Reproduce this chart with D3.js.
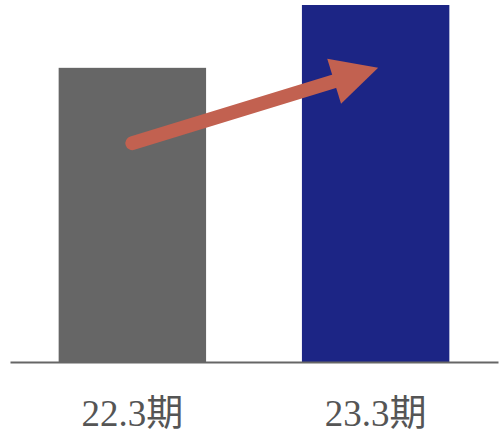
<!DOCTYPE html>
<html><head><meta charset="utf-8">
<script src="https://cdn.jsdelivr.net/npm/d3@7/dist/d3.min.js"></script>
<style>html,body{margin:0;padding:0;background:#fff;}</style>
</head><body>
<svg id="c" width="500" height="441"></svg>
<script>
const categories = ["22.3期", "23.3期"];
const values = [82.4, 100];
const colors = ["#666666", "#1c2585"];
// arrow: from category 0 at value 61.3 to category 1 at value 82.4
const arrowFrom = {cat: "22.3期", value: 61.3};
const arrowTo = {cat: "23.3期", value: 82.4};

const svg = d3.select("#c");
const x = d3.scaleBand().domain(categories).range([10, 498]).paddingInner(0.394).paddingOuter(0.2);
const y = d3.scaleLinear().domain([0, 100]).range([362, 5]);

svg.selectAll("rect.bar").data(categories).join("rect")
  .attr("class", "bar")
  .attr("x", d => x(d)).attr("width", x.bandwidth())
  .attr("y", (d, i) => y(values[i])).attr("height", (d, i) => y(0) - y(values[i]))
  .attr("fill", (d, i) => colors[i]);

// axis
const axis = d3.axisBottom(x).tickSize(0).tickPadding(38);
const g = svg.append("g").attr("transform", `translate(0,${y(0)})`).call(axis);
g.select(".domain").attr("stroke", "#666").attr("stroke-width", 2);
g.selectAll("text").attr("font-family", "'Liberation Serif','Noto Sans CJK JP',serif")
  .attr("font-size", 37).attr("fill", "#555");

// arrow
const x0 = x(arrowFrom.cat) + x.bandwidth() / 2, y0 = y(arrowFrom.value);
const x1 = x(arrowTo.cat) + x.bandwidth() / 2 + 2.5, y1 = y(arrowTo.value);
const dx = x1 - x0, dy = y1 - y0, L = Math.hypot(dx, dy);
const ux = dx / L, uy = dy / L, nx = -uy, ny = ux;
const headLen = 46, headHalf = 23.5;
const bx = x1 - ux * headLen, by = y1 - uy * headLen;
const acol = "#c26150";
svg.append("line").attr("x1", x0).attr("y1", y0).attr("x2", bx + ux * 4).attr("y2", by + uy * 4)
  .attr("stroke", acol).attr("stroke-width", 14).attr("stroke-linecap", "round");
svg.append("path")
  .attr("d", `M${x1},${y1}L${bx + nx * headHalf},${by + ny * headHalf}L${bx - nx * headHalf},${by - ny * headHalf}Z`)
  .attr("fill", acol);
</script>
</body></html>
